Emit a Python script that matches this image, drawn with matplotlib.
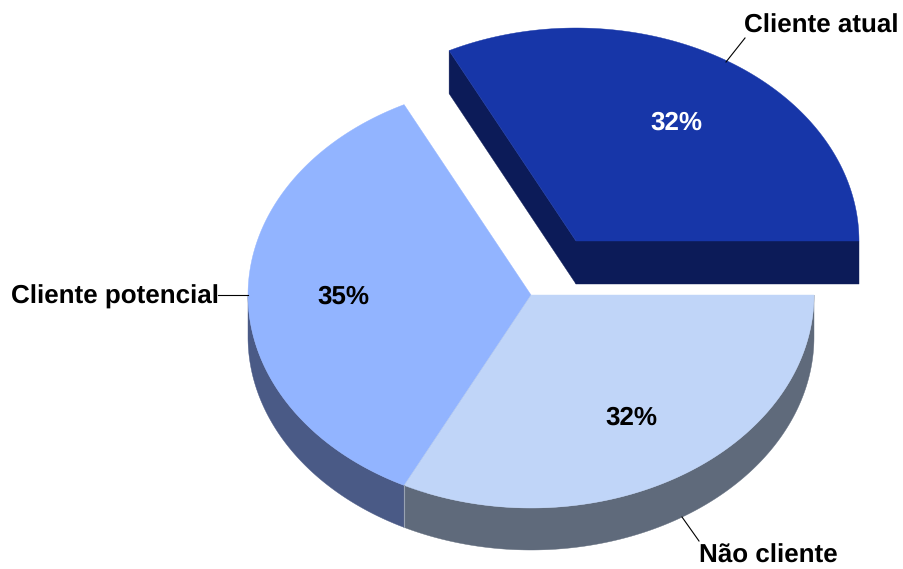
import numpy as np
import matplotlib
matplotlib.use('Agg')
import matplotlib.pyplot as plt
from matplotlib.patches import Polygon

plt.rcParams['text.hinting'] = 'no_hinting'
plt.rcParams['text.hinting_factor'] = 1

labels = ['Cliente atual', 'Cliente potencial', 'Não cliente']
values = [32.4, 35.2, 32.4]
pct_labels = ['32%', '35%', '32%']
top_colors = ['#1736a8', '#92b4ff', '#c0d5f8']
side_colors = ['#0c1b58', '#4a5a86', '#5f6a7b']
pct_colors = ['white', 'black', 'black']

CX, CY = 531, 295
RX, RY = 283, 213
DEPTH = 42
EXPLODE = (45, 54)


def arc(start, end, cx, cy):
    t = np.radians(np.linspace(start, end, 200))
    return np.column_stack([cx + RX * np.cos(t), cy - RY * np.sin(t)])


def draw_slice(ax, start, end, cx, cy, top, side, depth=DEPTH):
    # outer wall, only the part facing the viewer
    pts = arc(start, end, cx, cy)
    t = np.radians(np.linspace(start, end, 200))
    front = pts[np.sin(t) <= 0]
    if len(front) > 1:
        wall = np.vstack([front, (front + [0, depth])[::-1]])
        ax.add_patch(Polygon(wall, closed=True, fc=side, ec=side, lw=0.3))
    # cut faces, only when they turn towards the viewer
    if np.cos(np.radians(start)) > 0:
        edge = arc(start, start, cx, cy)[0]
        face = [(cx, cy), edge, edge + [0, depth], (cx, cy + depth)]
        ax.add_patch(Polygon(face, closed=True, fc=side, ec=side, lw=0.3))
    if np.cos(np.radians(end)) < 0:
        edge = arc(end, end, cx, cy)[0]
        face = [(cx, cy), edge, edge + [0, depth], (cx, cy + depth)]
        ax.add_patch(Polygon(face, closed=True, fc=side, ec=side, lw=0.3))
    ax.add_patch(Polygon(np.vstack([[(cx, cy)], pts]), closed=True, fc=top, ec=top, lw=0.3))


fig = plt.figure(figsize=(9.04, 5.69), dpi=100)
ax = fig.add_axes([0, 0, 1, 1])
ax.set_xlim(0, 904)
ax.set_ylim(569, 0)
ax.axis('off')

bounds = np.concatenate([[0], np.cumsum(values)]) * 3.6

# back to front
draw_slice(ax, bounds[1], bounds[2], CX, CY, top_colors[1], side_colors[1])
draw_slice(ax, bounds[2], bounds[3], CX, CY, top_colors[2], side_colors[2])
draw_slice(ax, bounds[0], bounds[1], CX + EXPLODE[0], CY - EXPLODE[1], top_colors[0], side_colors[0], depth=43)

# light seam between the two walls
seam = arc(bounds[2], bounds[2], CX, CY)[0]
ax.plot([seam[0], seam[0]], [seam[1], seam[1] + DEPTH], color='#98a2b2', lw=0.8)

font = dict(family=['Liberation Sans'], fontweight='bold', fontsize=18.4)

pct_pos = [(676, 123), (343, 297), (631, 418)]
for txt, col, pos in zip(pct_labels, pct_colors, pct_pos):
    ax.text(pos[0], pos[1], txt, color=col, ha='center', va='center', **font)

label_pos = [(744, 26), (219, 297), (699, 556.5)]
label_ha = ['left', 'right', 'left']
for txt, pos, ha in zip(labels, label_pos, label_ha):
    ax.text(pos[0], pos[1], txt, color='black', ha=ha, va='center', **font)

leaders = [((726, 62), (745, 38)), ((218, 295), (248, 295)), ((682, 517), (699, 541))]
for a, b in leaders:
    ax.plot([a[0], b[0]], [a[1], b[1]], color='black', lw=0.8)

plt.savefig('out.png', dpi=100)
plt.close()
